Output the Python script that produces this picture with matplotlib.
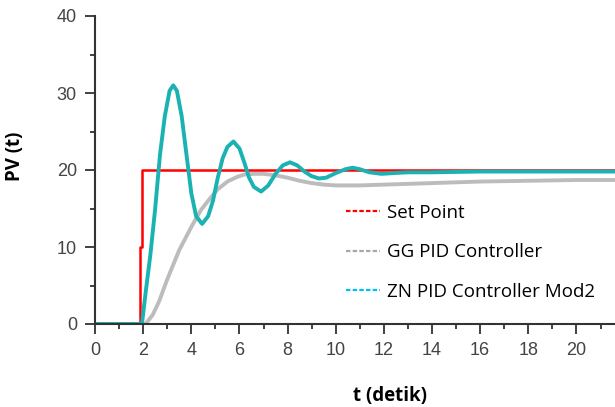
import numpy as np
import matplotlib
matplotlib.use("Agg")
import matplotlib.pyplot as plt
from matplotlib.lines import Line2D
from matplotlib.ticker import MultipleLocator

# set point
t_sp = [0, 1.88, 1.88, 1.95, 1.95, 21.6]
pv_sp = [0, 0, 10, 10, 20, 20]

# GG PID controller
t_gg = [0, 2.1, 2.4, 2.67, 3.0, 3.5, 4.0, 4.4, 4.75, 5.1, 5.5, 5.9, 6.2, 6.6, 7.0, 7.5,
        8.0, 8.5, 9.0, 9.5, 10.0, 11.0, 12.0, 13.0, 14.0, 15.0, 16.0, 18.0, 20.0, 21.6]
pv_gg = [0, 0, 1.2, 3.0, 5.8, 9.6, 12.6, 14.8, 16.2, 17.5, 18.5, 19.1, 19.4, 19.5, 19.5, 19.3,
         19.0, 18.6, 18.3, 18.1, 18.0, 18.0, 18.1, 18.2, 18.3, 18.4, 18.5, 18.6, 18.7, 18.7]

# ZN PID controller Mod2
t_zn = [0, 1.95, 2.1, 2.3, 2.5, 2.7, 2.9, 3.1, 3.25, 3.4, 3.6, 3.8, 4.0, 4.2, 4.45, 4.7,
        4.9, 5.1, 5.3, 5.5, 5.75, 6.0, 6.2, 6.4, 6.6, 6.9, 7.2, 7.5, 7.8, 8.1, 8.4, 8.7,
        9.0, 9.3, 9.6, 10.0, 10.4, 10.7, 11.0, 11.4, 11.9, 12.4, 13, 14, 16, 18, 20, 21.6]
pv_zn = [0, 0, 4, 9, 15, 22, 27, 30.3, 31, 30.3, 27, 22, 17, 14, 13, 14,
         16, 19, 21.5, 23, 23.7, 22.8, 21, 19, 17.8, 17.2, 18, 19.5, 20.6, 21, 20.6, 19.8,
         19.2, 18.9, 19.0, 19.6, 20.1, 20.3, 20.1, 19.7, 19.5, 19.6, 19.7, 19.7, 19.8, 19.8, 19.8, 19.8]

labels = ["Set Point", "GG PID Controller", "ZN PID Controller Mod2"]

fig = plt.figure(figsize=(6.15, 4.07), dpi=100)
ax = fig.add_axes([95/615, 1-324/407, 1-95/615, 308/407])

ax.plot(t_gg, pv_gg, color="#bcbcbc", lw=2.8, solid_capstyle="round")
ax.plot(t_sp, pv_sp, color="#ff0000", lw=1.8)
ax.plot(t_zn, pv_zn, color="#1ab2b2", lw=2.8, solid_joinstyle="round")

ax.set_xlim(0, 21.6)
ax.set_ylim(0, 40)
ax.xaxis.set_major_locator(MultipleLocator(2))
ax.xaxis.set_minor_locator(MultipleLocator(1))
ax.yaxis.set_major_locator(MultipleLocator(10))
ax.yaxis.set_minor_locator(MultipleLocator(5))
for s in ["top", "right"]:
    ax.spines[s].set_visible(False)
for s in ["left", "bottom"]:
    ax.spines[s].set_color("#333333")
    ax.spines[s].set_linewidth(1.5)
ax.tick_params(which="major", length=7, width=1.3, color="#333333",
               labelsize=13, labelcolor="#444444", pad=6)
ax.tick_params(which="minor", length=3.5, width=1.3, color="#333333")
for lab in ax.get_xticklabels() + ax.get_yticklabels():
    lab.set_family("Liberation Sans")

ax.set_xlabel("t (detik)", fontsize=13.5, fontweight="bold", family="Open Sans")
ax.xaxis.set_label_coords(0.567, -0.2)
ax.set_ylabel("PV (t)", fontsize=13.5, fontweight="bold", family="Open Sans")
ax.yaxis.set_label_coords(-0.135, 0.545)

handles = [Line2D([], [], color=c, lw=1.6, ls=(0, (2, 1)))
           for c in ["#ff0000", "#a8a8a8", "#00c0f0"]]
ax.legend(handles, labels, loc="upper left", bbox_to_anchor=(0.45, 0.445),
          frameon=False, handlelength=1.8, handletextpad=0.4, labelspacing=1.15,
          prop={"family": "Open Sans", "size": 13.5})

fig.savefig("out.png", dpi=100)
